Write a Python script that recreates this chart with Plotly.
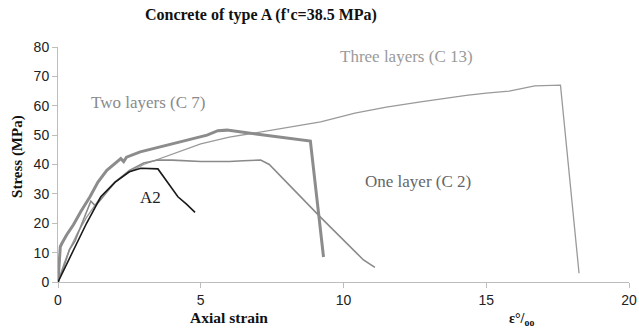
import plotly.graph_objects as go

# A2 (unconfined)
a2_strain = [0, 0.2, 0.5, 1.0, 1.5, 2.0, 2.5, 2.9, 3.5, 3.9, 4.2, 4.5, 4.8]
a2_stress = [0, 4, 10, 20, 29, 34, 37.5, 38.7, 38.5, 33, 29, 26.5, 23.7]

# One layer (C 2)
c2_strain = [0, 0.2, 0.4, 0.6, 0.8, 1.0, 1.15, 1.3, 1.45, 1.7, 2.0, 2.5, 3.0, 3.5, 4.0, 5.0, 6.0, 6.5, 7.1, 7.4, 9.2, 10.7, 11.1]
c2_stress = [0, 5, 11, 14, 19, 24, 27.5, 26, 27.5, 30.5, 34, 38, 40.5, 41.5, 41.5, 41, 41, 41.3, 41.5, 40, 22, 7.5, 5]

# Two layers (C 7)
c7_strain = [0, 0.08, 0.13, 0.3, 0.54, 0.8, 1.12, 1.4, 1.71, 2.0, 2.2, 2.3, 2.4, 2.88, 3.5, 4.05, 4.6, 5.22, 5.6, 5.92, 7.0, 8.84, 9.3]
c7_stress = [0, 12, 13, 16, 19.5, 24, 29, 34, 38, 40.5, 42, 41, 42.5, 44.3, 45.8, 47.2, 48.5, 50, 51.5, 51.7, 50.3, 48, 8.5]

# Three layers (C 13)
c13_strain = [0, 0.2, 0.4, 0.7, 1.0, 1.5, 2.0, 2.5, 3.0, 4.0, 5.0, 6.0, 7.3, 8.2, 9.2, 10.4, 11.5, 12.7, 13.5, 14.3, 15.0, 15.8, 16.7, 17.6, 18.25]
c13_stress = [0, 6, 11, 17, 22, 29, 34, 37.5, 40, 43.5, 47, 49.3, 51.5, 53, 54.5, 57.5, 59.5, 61.3, 62.5, 63.5, 64.3, 65, 66.8, 67, 3]

x_ticks = [0, 5, 10, 15, 20]
y_ticks = [0, 10, 20, 30, 40, 50, 60, 70, 80]

serif = "Liberation Serif, Times New Roman, serif"
sans = "Liberation Sans, Arial, sans-serif"

fig = go.Figure()
fig.add_trace(go.Scatter(x=c13_strain, y=c13_stress, mode="lines",
                         line=dict(color="#9a9a9a", width=1.3), showlegend=False))
fig.add_trace(go.Scatter(x=c2_strain, y=c2_stress, mode="lines",
                         line=dict(color="#8a8a8a", width=1.6), showlegend=False))
fig.add_trace(go.Scatter(x=c7_strain, y=c7_stress, mode="lines",
                         line=dict(color="#8c8c8c", width=3), showlegend=False))
fig.add_trace(go.Scatter(x=a2_strain, y=a2_stress, mode="lines",
                         line=dict(color="#1a1a1a", width=1.6), showlegend=False))

ann = [
    dict(x=3.16, y=61, text="Two layers (C 7)", color="#8a8a8a"),
    dict(x=12.2, y=76.7, text="Three layers (C 13)", color="#9a9a9a"),
    dict(x=12.6, y=34.2, text="One layer (C 2)", color="#666666"),
    dict(x=3.23, y=28.8, text="A2", color="#222222"),
]
for a in ann:
    fig.add_annotation(x=a["x"], y=a["y"], text=a["text"], showarrow=False,
                       font=dict(family=serif, size=17, color=a["color"]),
                       xanchor="center", yanchor="middle")

# Title and axis titles as paper annotations
fig.add_annotation(x=0.355, y=1.136, xref="paper", yref="paper",
                   text="<b>Concrete of type A (f'c=38.5 MPa)</b>", showarrow=False,
                   font=dict(family=serif, size=16, color="#111"),
                   xanchor="center", yanchor="middle")
fig.add_annotation(x=0.2995, y=-0.153, xref="paper", yref="paper",
                   text="<b>Axial strain</b>", showarrow=False,
                   font=dict(family=serif, size=15.5, color="#111"),
                   xanchor="center", yanchor="middle")
fig.add_annotation(x=-0.072, y=0.536, xref="paper", yref="paper",
                   text="<b>Stress (MPa)</b>", showarrow=False, textangle=-90,
                   font=dict(family=serif, size=15, color="#111"),
                   xanchor="center", yanchor="middle")
fig.add_annotation(x=0.812, y=-0.16, xref="paper", yref="paper",
                   text="<b>ε°/<sub>oo</sub></b>", showarrow=False,
                   font=dict(family=serif, size=14, color="#111"),
                   xanchor="center", yanchor="middle")

fig.update_layout(
    width=639, height=334,
    margin=dict(l=58, r=10, t=47, b=52, autoexpand=False),
    paper_bgcolor="white", plot_bgcolor="white",
    xaxis=dict(range=[0, 20], tickvals=x_ticks, showgrid=False, zeroline=False,
               showline=True, linecolor="#bdbdbd", linewidth=1,
               ticks="outside", ticklen=5, tickcolor="#bdbdbd",
               tickfont=dict(family=sans, size=14, color="#222")),
    yaxis=dict(range=[0, 80], tickvals=y_ticks, showgrid=False, zeroline=False,
               showline=True, linecolor="#bdbdbd", linewidth=1,
               ticks="outside", ticklen=5, tickcolor="#bdbdbd",
               tickfont=dict(family=sans, size=14, color="#222")),
)

fig.write_html("out.html", config={"displayModeBar": False},
               post_script="document.body.style.margin='0';document.body.style.overflow='hidden';")
